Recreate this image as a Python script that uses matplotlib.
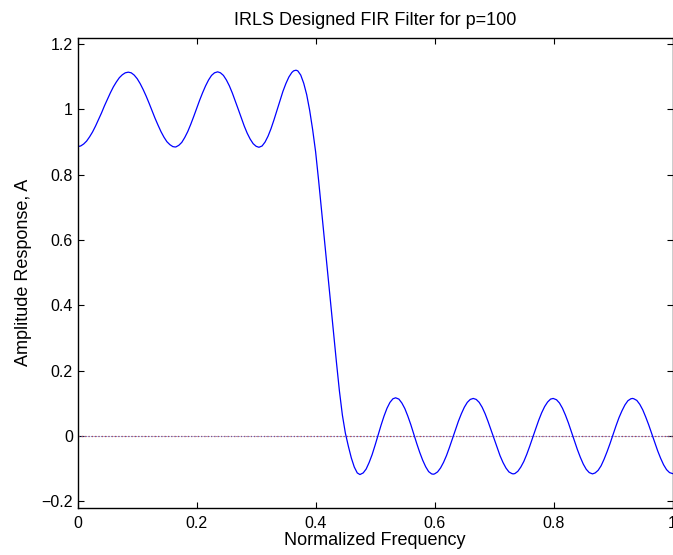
import matplotlib
matplotlib.use("Agg")
import matplotlib.pyplot as plt

# Amplitude response (normalized frequency, value)
pass_freq = [0.000, 0.005, 0.010, 0.015, 0.020, 0.025, 0.030, 0.035, 0.040, 0.045,
             0.050, 0.055, 0.060, 0.065, 0.070, 0.075, 0.080, 0.085, 0.090, 0.095,
             0.100, 0.105, 0.110, 0.115, 0.120, 0.125, 0.130, 0.135, 0.140, 0.145,
             0.150, 0.155, 0.160, 0.1635, 0.165, 0.170, 0.175, 0.180, 0.185, 0.190,
             0.195, 0.200, 0.205, 0.210, 0.215, 0.220, 0.225, 0.230, 0.2353, 0.240,
             0.245, 0.250, 0.255, 0.260, 0.265, 0.270, 0.275, 0.280, 0.285, 0.290,
             0.295, 0.300, 0.3047, 0.310, 0.315, 0.320, 0.325, 0.330, 0.335, 0.340,
             0.345, 0.350, 0.355, 0.360, 0.363, 0.367]
pass_amp = [0.886, 0.888, 0.894, 0.903, 0.916, 0.931, 0.949, 0.969, 0.989, 1.011,
            1.031, 1.051, 1.069, 1.084, 1.097, 1.106, 1.112, 1.114, 1.112, 1.105,
            1.094, 1.079, 1.061, 1.041, 1.019, 0.996, 0.973, 0.952, 0.932, 0.915,
            0.901, 0.892, 0.886, 0.885, 0.885, 0.890, 0.899, 0.914, 0.932, 0.954,
            0.978, 1.003, 1.028, 1.051, 1.072, 1.090, 1.104, 1.112, 1.115, 1.112,
            1.104, 1.090, 1.072, 1.050, 1.025, 1.000, 0.974, 0.949, 0.927, 0.909,
            0.895, 0.887, 0.884, 0.888, 0.900, 0.918, 0.941, 0.968, 0.997, 1.027,
            1.055, 1.079, 1.099, 1.113, 1.118, 1.120]

trans_freq = [0.370, 0.375, 0.380, 0.385, 0.390, 0.395, 0.400, 0.405, 0.410, 0.415,
              0.420, 0.425, 0.430, 0.435, 0.440, 0.445, 0.450, 0.455, 0.460, 0.465,
              0.470]
trans_amp = [1.118, 1.105, 1.080, 1.045, 0.997, 0.938, 0.870, 0.783, 0.690, 0.596,
             0.503, 0.410, 0.318, 0.226, 0.138, 0.064, 0.009, -0.031, -0.067, -0.095,
             -0.113]

stop_freq = [0.4745, 0.480, 0.485, 0.490, 0.495, 0.500, 0.505, 0.510, 0.515, 0.520,
             0.525, 0.530, 0.5345, 0.540, 0.545, 0.550, 0.555, 0.560, 0.565, 0.570,
             0.575, 0.580, 0.585, 0.590, 0.595, 0.5977, 0.600, 0.605, 0.610, 0.615,
             0.620, 0.625, 0.630, 0.635, 0.640, 0.645, 0.650, 0.655, 0.660, 0.665,
             0.670, 0.675, 0.680, 0.685, 0.690, 0.695, 0.700, 0.705, 0.710, 0.715,
             0.720, 0.725, 0.730, 0.732, 0.735, 0.740, 0.745, 0.750, 0.755, 0.760,
             0.765, 0.770, 0.775, 0.780, 0.785, 0.790, 0.795, 0.7994, 0.805, 0.810,
             0.815, 0.820, 0.825, 0.830, 0.835, 0.840, 0.845, 0.850, 0.855, 0.860,
             0.8655, 0.870, 0.875, 0.880, 0.885, 0.890, 0.895, 0.900, 0.905, 0.910,
             0.915, 0.920, 0.925, 0.930, 0.9328, 0.935, 0.940, 0.945, 0.950, 0.955,
             0.960, 0.965, 0.970, 0.975, 0.980, 0.985, 0.990, 0.995, 1.000]
stop_amp = [-0.118, -0.113, -0.101, -0.081, -0.057, -0.028, 0.003, 0.033, 0.061, 0.085,
            0.103, 0.114, 0.117, 0.113, 0.101, 0.084, 0.061, 0.035, 0.006, -0.023,
            -0.050, -0.074, -0.094, -0.109, -0.116, -0.117, -0.116, -0.110, -0.098, -0.081,
            -0.060, -0.035, -0.008, 0.019, 0.045, 0.068, 0.088, 0.103, 0.112, 0.115,
            0.112, 0.103, 0.088, 0.068, 0.044, 0.018, -0.009, -0.035, -0.060, -0.081,
            -0.098, -0.110, -0.115, -0.116, -0.115, -0.108, -0.095, -0.078, -0.056, -0.031,
            -0.004, 0.022, 0.048, 0.071, 0.090, 0.104, 0.113, 0.115, 0.111, 0.101,
            0.085, 0.064, 0.040, 0.013, -0.014, -0.041, -0.065, -0.086, -0.102, -0.112,
            -0.116, -0.113, -0.105, -0.091, -0.071, -0.048, -0.023, 0.004, 0.031, 0.056,
            0.077, 0.095, 0.108, 0.114, 0.115, 0.114, 0.109, 0.097, 0.080, 0.058,
            0.034, 0.008, -0.019, -0.045, -0.068, -0.088, -0.103, -0.112, -0.115]

zero_x = [0.0, 1.0]
zero_y = [0.0, 0.0]

xticks = [0, 0.2, 0.4, 0.6, 0.8, 1]
xticklabels = ["0", "0.2", "0.4", "0.6", "0.8", "1"]
yticks = [-0.2, 0, 0.2, 0.4, 0.6, 0.8, 1, 1.2]
yticklabels = ["\u22120.2", "0", "0.2", "0.4", "0.6", "0.8", "1", "1.2"]

title = "IRLS Designed FIR Filter for p=100"
xlabel = "Normalized Frequency"
ylabel = "Amplitude Response, A"

freq = pass_freq + trans_freq + stop_freq
amp = pass_amp + trans_amp + stop_amp

plt.rcParams['font.family'] = ['Liberation Sans', 'DejaVu Sans']

fig = plt.figure(figsize=(6.73, 5.55), dpi=100)
ax = fig.add_axes([77.7 / 673, 1 - 507.7 / 555, 594.8 / 673, 470.0 / 555])

ax.plot(zero_x, zero_y, color='#d04030', linestyle=':', linewidth=0.9)
ax.plot(zero_x, zero_y, color='#5060c0', linestyle=(1, (1, 1)), linewidth=0.6)
ax.plot(freq, amp, color='#0000ff', linewidth=0.9)

ax.set_xlim(0, 1)
ax.set_ylim(-0.2195, 1.2195)
ax.set_xticks(xticks)
ax.set_xticklabels(xticklabels)
ax.set_yticks(yticks)
ax.set_yticklabels(yticklabels)
ax.tick_params(direction='in', top=True, right=True, length=4.5, width=0.8,
               labelsize=11.5, colors='black')
ax.tick_params(axis='x', pad=6)
ax.tick_params(axis='y', pad=3.5)
for s in ax.spines.values():
    s.set_linewidth(1.0)
    s.set_color('black')

ax.set_title(title, fontsize=13, pad=9)
ax.set_xlabel(xlabel, fontsize=13, labelpad=1)
ax.set_ylabel(ylabel, fontsize=13, labelpad=7)

fig.savefig("out.png", dpi=100)
